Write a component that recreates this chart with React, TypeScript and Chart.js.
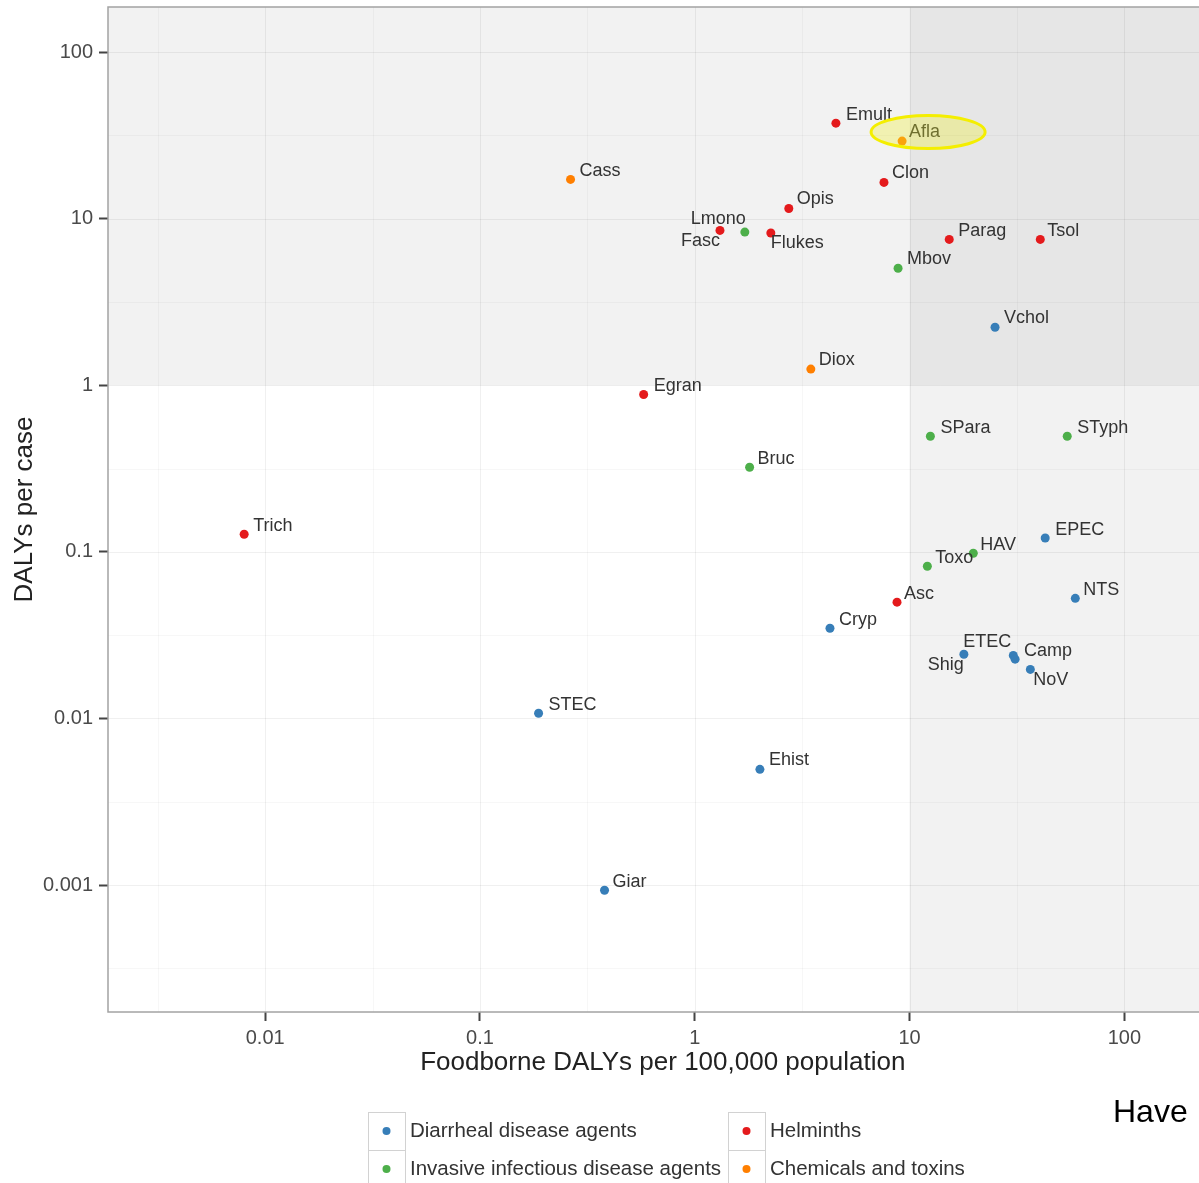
import React, { useEffect, useRef } from "react";
import { Chart, registerables } from "chart.js";

Chart.register(...registerables);

// ---------------- DATA ----------------
const agents = [
  "Emult", "Afla", "Cass", "Clon", "Opis", "Lmono", "Fasc", "Flukes", "Parag", "Tsol",
  "Mbov", "Vchol", "Diox", "Egran", "SPara", "STyph", "Bruc", "Trich", "EPEC", "HAV",
  "Toxo", "Asc", "NTS", "Cryp", "Shig", "ETEC", "Camp", "NoV", "STEC", "Ehist", "Giar",
];
// Foodborne DALYs per 100,000 population
const foodborneDalys = [
  4.54, 9.23, 0.264, 7.6, 2.74, 1.71, 1.31, 2.26, 15.3, 40.6,
  8.84, 25.0, 3.47, 0.578, 12.5, 54.2, 1.8, 0.00798, 42.8, 19.8,
  12.1, 8.74, 59.1, 4.26, 17.9, 30.4, 31.0, 36.5, 0.1874, 2.01, 0.38,
];
// DALYs per case
const dalysPerCase = [
  37.4, 29.2, 17.2, 16.5, 11.5, 8.3, 8.5, 8.2, 7.5, 7.5,
  5.04, 2.23, 1.25, 0.88, 0.494, 0.494, 0.322, 0.1275, 0.121, 0.098,
  0.082, 0.0499, 0.0526, 0.0348, 0.0243, 0.0239, 0.0227, 0.0197, 0.01074, 0.00495, 0.00093,
];
// 0 diarrheal, 1 invasive, 2 helminths, 3 chemicals
const agentGroup = [
  2, 3, 3, 2, 2, 1, 2, 2, 2, 2,
  1, 0, 3, 2, 1, 1, 1, 2, 0, 1,
  1, 2, 0, 0, 0, 0, 0, 0, 0, 0, 0,
];
const groupNames = [
  "Diarrheal disease agents",
  "Invasive infectious disease agents",
  "Helminths",
  "Chemicals and toxins",
];
const groupColors = ["#377EB8", "#4DAF4A", "#E41A1C", "#FF7F00"];
const xTickValues = [0.01, 0.1, 1, 10, 100];
const yTickValues = [0.001, 0.01, 0.1, 1, 10, 100];
const xTitle = "Foodborne DALYs per 100,000 population";
const yTitle = "DALYs per case";
const thresholdX = 10;
const thresholdY = 1;
const highlighted = "Afla";
const sideText = "Have";

// ---------------- STYLE / LAYOUT ----------------
const FONT = '"Liberation Sans", Arial, Helvetica, sans-serif';
const W = 1222;
const H = 1183;
const LABEL_POS: Record<string, [number, number, CanvasTextAlign]> = {
  Emult: [10, -8, "left"], Afla: [7, -9, "left"], Cass: [9, -8, "left"], Clon: [8, -9, "left"],
  Opis: [8, -9, "left"], Lmono: [1, -13, "right"], Fasc: [0, 11, "right"], Flukes: [0, 10, "left"],
  Parag: [9, -8, "left"], Tsol: [7, -8, "left"], Mbov: [9, -9, "left"], Vchol: [9, -9, "left"],
  Diox: [8, -9, "left"], Egran: [10, -8, "left"], SPara: [10, -8, "left"], STyph: [10, -8, "left"],
  Bruc: [8, -8, "left"], Trich: [9, -8, "left"], EPEC: [10, -8, "left"], HAV: [7, -8, "left"],
  Toxo: [8, -8, "left"], Asc: [7, -8, "left"], NTS: [8, -8, "left"], Cryp: [9, -8, "left"],
  Shig: [0, 11, "right"], ETEC: [-2, -13, "right"], Camp: [9, -8, "left"], NoV: [3, 11, "left"],
  STEC: [10, -8, "left"], Ehist: [9, -9, "left"], Giar: [8, -8, "left"],
};

const backgroundPlugin = {
  id: "bgPanels",
  beforeDraw(chart: any) {
    const { ctx, chartArea: a, scales } = chart;
    const xs = scales.x, ys = scales.y;
    const tx = xs.getPixelForValue(thresholdX);
    const ty = ys.getPixelForValue(thresholdY);
    ctx.save();
    ctx.fillStyle = "#ffffff";
    ctx.fillRect(a.left, a.top, a.right - a.left, a.bottom - a.top);
    ctx.fillStyle = "#f2f2f2";
    ctx.fillRect(a.left, a.top, tx - a.left, ty - a.top);
    ctx.fillRect(tx, ty, a.right - tx, a.bottom - ty);
    ctx.fillStyle = "#e6e6e6";
    ctx.fillRect(tx, a.top, a.right - tx, ty - a.top);
    const lines = (vals: number[], color: string) => {
      ctx.strokeStyle = color;
      ctx.lineWidth = 1;
      ctx.beginPath();
      vals.forEach((v) => {
        const px = xs.getPixelForValue(v);
        if (px > a.left && px < a.right) {
          ctx.moveTo(Math.round(px) + 0.5, a.top);
          ctx.lineTo(Math.round(px) + 0.5, a.bottom);
        }
        const py = ys.getPixelForValue(v);
        if (py > a.top && py < a.bottom) {
          ctx.moveTo(a.left, Math.round(py) + 0.5);
          ctx.lineTo(a.right, Math.round(py) + 0.5);
        }
      });
      ctx.stroke();
    };
    const majors: number[] = [];
    const minors: number[] = [];
    for (let k = -4; k <= 3; k++) {
      majors.push(Math.pow(10, k));
      minors.push(Math.pow(10, k + 0.5));
    }
    lines(minors, "rgba(0,0,0,0.03)");
    lines(majors, "rgba(0,0,0,0.06)");
    ctx.restore();
  },
  afterDatasetsDraw(chart: any) {
    const { ctx, chartArea: a } = chart;
    ctx.save();
    ctx.font = `18px ${FONT}`;
    ctx.fillStyle = "#333333";
    ctx.textBaseline = "middle";
    let hl: { x: number; y: number } | null = null;
    chart.data.datasets.forEach((ds: any, i: number) => {
      const meta = chart.getDatasetMeta(i);
      meta.data.forEach((el: any, j: number) => {
        const name = ds.data[j].name;
        const pos = LABEL_POS[name] || [9, -8, "left"];
        ctx.textAlign = pos[2];
        ctx.fillText(name, el.x + pos[0], el.y + pos[1]);
        if (name === highlighted) hl = { x: el.x, y: el.y };
      });
    });
    if (hl) {
      const h = hl as { x: number; y: number };
      ctx.beginPath();
      ctx.ellipse(h.x + 26, h.y - 9, 57, 16.5, 0, 0, Math.PI * 2);
      ctx.fillStyle = "rgba(240,240,40,0.32)";
      ctx.fill();
      ctx.lineWidth = 3;
      ctx.strokeStyle = "#f4ee00";
      ctx.stroke();
    }
    ctx.strokeStyle = "#a3a3a3";
    ctx.lineWidth = 1.5;
    ctx.strokeRect(a.left, a.top, a.right - a.left, a.bottom - a.top);
    ctx.restore();
  },
  afterDraw(chart: any) {
    const { ctx, chartArea: a } = chart;
    ctx.save();
    ctx.fillStyle = "#222222";
    ctx.font = `26px ${FONT}`;
    ctx.textAlign = "center";
    ctx.textBaseline = "middle";
    ctx.fillText(xTitle, (a.left + a.right) / 2, 1063);
    ctx.save();
    ctx.translate(25, (a.top + a.bottom) / 2);
    ctx.rotate(-Math.PI / 2);
    ctx.fillText(yTitle, 0, 0);
    ctx.restore();
    const keys = [
      { x: 368, y: 1112, tx: 410 },
      { x: 368, y: 1150, tx: 410 },
      { x: 728, y: 1112, tx: 770 },
      { x: 728, y: 1150, tx: 770 },
    ];
    ctx.font = `20.5px ${FONT}`;
    ctx.textAlign = "left";
    groupNames.forEach((g, i) => {
      const k = keys[i];
      ctx.fillStyle = "#ffffff";
      ctx.fillRect(k.x, k.y, 37, 38);
      ctx.strokeStyle = "#d2d2d2";
      ctx.lineWidth = 1;
      ctx.strokeRect(k.x + 0.5, k.y + 0.5, 37, 38);
      ctx.fillStyle = groupColors[i];
      ctx.beginPath();
      ctx.arc(k.x + 18.5, k.y + 19, 4, 0, Math.PI * 2);
      ctx.fill();
      ctx.fillStyle = "#333333";
      ctx.fillText(g, k.tx, k.y + 19);
    });
    ctx.fillStyle = "#000000";
    ctx.font = `32px ${FONT}`;
    ctx.textBaseline = "alphabetic";
    ctx.fillText(sideText, 1113, 1122);
    ctx.restore();
  },
};

export default function App() {
  const ref = useRef<HTMLCanvasElement | null>(null);

  useEffect(() => {
    if (!ref.current) return;
    const datasets = groupNames.map((g, gi) => ({
      label: g,
      data: agents
        .map((name, i) => ({ x: foodborneDalys[i], y: dalysPerCase[i], name, grp: agentGroup[i] }))
        .filter((d) => d.grp === gi),
      backgroundColor: groupColors[gi],
      borderColor: groupColors[gi],
      borderWidth: 0,
      pointRadius: 4.5,
    }));
    const tickFont = { family: FONT, size: 20 };
    const chart = new Chart(ref.current, {
      type: "scatter",
      data: { datasets },
      plugins: [backgroundPlugin],
      options: {
        responsive: false,
        animation: false,
        devicePixelRatio: 1,
        layout: { padding: { top: 7, left: 0, right: 0, bottom: 0 } },
        plugins: { legend: { display: false }, tooltip: { enabled: false } },
        scales: {
          x: {
            type: "logarithmic",
            bounds: "data",
            min: 0.001854,
            max: 271.4,
            afterBuildTicks: (s: any) => {
              s.ticks = xTickValues.map((v) => ({ value: v }));
            },
            afterFit: (s: any) => {
              s.height = H - 1012;
              s.paddingLeft = 0;
              s.paddingRight = 0;
            },
            ticks: {
              callback: (v: any) => String(v),
              font: tickFont,
              color: "#4a4a4a",
              padding: 5,
              maxRotation: 0,
              autoSkip: false,
            },
            grid: { drawOnChartArea: false, drawTicks: true, tickLength: 9, tickColor: "#444", tickWidth: 2 },
            border: { display: false },
          },
          y: {
            type: "logarithmic",
            bounds: "data",
            min: 0.000173,
            max: 186.3,
            afterBuildTicks: (s: any) => {
              s.ticks = yTickValues.map((v) => ({ value: v }));
            },
            afterFit: (s: any) => {
              s.width = 108;
              s.paddingTop = 0;
              s.paddingBottom = 0;
            },
            ticks: {
              callback: (v: any) => String(v),
              font: tickFont,
              color: "#4a4a4a",
              padding: 6,
              autoSkip: false,
            },
            grid: { drawOnChartArea: false, drawTicks: true, tickLength: 9, tickColor: "#444", tickWidth: 2 },
            border: { display: false },
          },
        },
      } as any,
    });
    return () => chart.destroy();
  }, []);

  return (
    <div
      style={{
        position: "absolute",
        left: 0,
        top: 0,
        width: 1199,
        height: 1183,
        overflow: "hidden",
        background: "#ffffff",
      }}
    >
      <canvas ref={ref} width={W} height={H} style={{ width: W, height: H, display: "block" }} />
    </div>
  );
}
